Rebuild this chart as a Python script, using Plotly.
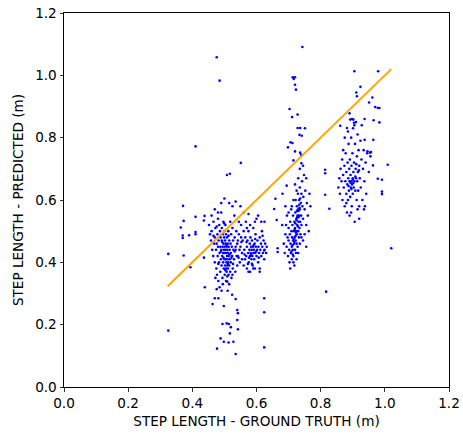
import plotly.graph_objects as go

# Ground truth / predicted pairs (approximate)
gt_outliers = [0.325, 0.325, 0.371, 0.373, 0.364, 0.370, 0.370, 0.373, 0.394, 0.410, 0.410, 0.410, 0.410, 0.390,
               0.436, 0.438, 0.436, 0.439, 0.463, 0.476, 0.485, 0.551, 0.508, 0.517,
               0.477, 0.488, 0.498, 0.513, 0.528, 0.535, 0.494, 0.507, 0.514, 0.520, 0.517, 0.542, 0.540, 0.540,
               0.542, 0.535, 0.524, 0.510, 0.498, 0.491, 0.476, 0.470, 0.481, 0.509, 0.624, 0.624, 0.624, 0.624,
               0.743, 0.713, 0.720, 0.716, 0.720, 0.723, 0.703, 0.711, 0.728, 0.728, 0.734, 0.736, 0.741, 0.751,
               0.698, 0.706, 0.712, 0.720, 0.736, 0.739, 0.740, 0.715,
               0.659, 0.655, 0.663, 0.666, 0.666, 0.681, 0.694, 0.817, 0.814, 0.827, 0.814, 0.814,
               0.905, 0.979, 0.924, 0.911, 0.913, 0.951, 0.961, 0.970, 0.978, 0.983, 0.983, 0.965, 0.937,
               1.009, 1.020, 0.991, 0.991, 0.991, 0.978, 0.963, 0.957, 0.946, 0.954, 0.937, 0.964,
               0.861, 0.882, 0.892, 0.902, 0.904, 0.890]
pr_outliers = [0.427, 0.181, 0.581, 0.533, 0.512, 0.486, 0.478, 0.422, 0.384, 0.772, 0.546, 0.497, 0.490, 0.487,
               0.534, 0.549, 0.415, 0.320, 0.266, 1.058, 0.983, 0.719, 0.680, 0.684,
               0.123, 0.156, 0.145, 0.143, 0.145, 0.106, 0.202, 0.204, 0.202, 0.192, 0.172, 0.185, 0.215, 0.247,
               0.237, 0.282, 0.296, 0.309, 0.260, 0.309, 0.314, 0.285, 0.285, 0.338, 0.285, 0.240, 0.127, 0.438,
               1.091, 0.994, 0.994, 0.988, 0.970, 0.954, 0.892, 0.866, 0.874, 0.831, 0.809, 0.831, 0.806, 0.830,
               0.769, 0.785, 0.783, 0.756, 0.752, 0.745, 0.718, 0.727,
               0.604, 0.571, 0.536, 0.445, 0.433, 0.620, 0.646, 0.306, 0.617, 0.572, 0.686, 0.697,
               1.013, 1.013, 0.963, 0.945, 0.933, 0.913, 0.929, 0.898, 0.895, 0.895, 0.849, 0.856, 0.860,
               0.713, 0.445, 0.627, 0.619, 0.665, 0.668, 0.711, 0.754, 0.756, 0.752, 0.793, 0.793,
               0.838, 0.831, 0.858, 0.858, 0.848, 0.878]

cluster_a = [
    (0.452, 0.52), (0.455, 0.49), (0.458, 0.47), (0.46, 0.50), (0.462, 0.44), (0.465, 0.42), (0.466, 0.53),
    (0.468, 0.46), (0.47, 0.48), (0.47, 0.40), (0.472, 0.51), (0.474, 0.44), (0.475, 0.38), (0.476, 0.46),
    (0.477, 0.36), (0.478, 0.49), (0.479, 0.42), (0.48, 0.54), (0.48, 0.45), (0.481, 0.34), (0.482, 0.47),
    (0.483, 0.40), (0.484, 0.52), (0.485, 0.43), (0.486, 0.50), (0.487, 0.37), (0.487, 0.45), (0.488, 0.48),
    (0.489, 0.41), (0.49, 0.56), (0.49, 0.44), (0.491, 0.39), (0.492, 0.47), (0.492, 0.51), (0.493, 0.42),
    (0.494, 0.35), (0.494, 0.45), (0.495, 0.49), (0.496, 0.40), (0.496, 0.43), (0.497, 0.53), (0.497, 0.46),
    (0.498, 0.38), (0.498, 0.44), (0.499, 0.48), (0.50, 0.41), (0.50, 0.45), (0.50, 0.50), (0.501, 0.36),
    (0.501, 0.43), (0.502, 0.47), (0.502, 0.39), (0.503, 0.44), (0.503, 0.52), (0.504, 0.41), (0.504, 0.46),
    (0.505, 0.38), (0.505, 0.49), (0.506, 0.43), (0.506, 0.40), (0.507, 0.45), (0.507, 0.37), (0.508, 0.42),
    (0.508, 0.48), (0.509, 0.39), (0.509, 0.44), (0.51, 0.41), (0.51, 0.46), (0.511, 0.38), (0.511, 0.43),
    (0.512, 0.50), (0.512, 0.40), (0.513, 0.45), (0.513, 0.36), (0.514, 0.42), (0.515, 0.39), (0.515, 0.47),
    (0.516, 0.44), (0.517, 0.41), (0.518, 0.53), (0.518, 0.37), (0.519, 0.46), (0.52, 0.43), (0.52, 0.40),
    (0.521, 0.49), (0.522, 0.35), (0.523, 0.45), (0.524, 0.42), (0.525, 0.51), (0.526, 0.38), (0.527, 0.47),
    (0.528, 0.44), (0.53, 0.41), (0.531, 0.55), (0.532, 0.48), (0.534, 0.37), (0.535, 0.45), (0.537, 0.50),
    (0.538, 0.42), (0.54, 0.39), (0.542, 0.47), (0.545, 0.53), (0.547, 0.44), (0.55, 0.58), (0.552, 0.48),
    (0.555, 0.41), (0.49, 0.59), (0.50, 0.605), (0.515, 0.59), (0.525, 0.58), (0.535, 0.595), (0.47, 0.57),
    (0.48, 0.56), (0.46, 0.55), (0.495, 0.33), (0.505, 0.34), (0.485, 0.32), (0.515, 0.33), (0.525, 0.36),
    (0.472, 0.35), (0.497, 0.415), (0.506, 0.455), (0.511, 0.395), (0.503, 0.375), (0.493, 0.465),
    (0.516, 0.425), (0.489, 0.435), (0.513, 0.485), (0.522, 0.415), (0.499, 0.525), (0.476, 0.515),
    (0.532, 0.435), (0.481, 0.395), (0.527, 0.395), (0.544, 0.415), (0.466, 0.485), (0.509, 0.355),
]
cluster_b = [
    (0.535, 0.44), (0.54, 0.46), (0.542, 0.42), (0.545, 0.49), (0.548, 0.40), (0.55, 0.45), (0.552, 0.52),
    (0.555, 0.43), (0.557, 0.47), (0.56, 0.39), (0.56, 0.50), (0.562, 0.44), (0.564, 0.41), (0.565, 0.48),
    (0.567, 0.53), (0.568, 0.42), (0.57, 0.45), (0.57, 0.38), (0.572, 0.47), (0.574, 0.43), (0.575, 0.50),
    (0.576, 0.40), (0.578, 0.44), (0.579, 0.46), (0.58, 0.42), (0.58, 0.37), (0.581, 0.48), (0.582, 0.43),
    (0.583, 0.45), (0.584, 0.41), (0.585, 0.44), (0.586, 0.47), (0.587, 0.42), (0.588, 0.39), (0.589, 0.45),
    (0.59, 0.43), (0.59, 0.51), (0.592, 0.44), (0.593, 0.41), (0.594, 0.46), (0.595, 0.38), (0.596, 0.43),
    (0.597, 0.49), (0.598, 0.45), (0.60, 0.42), (0.60, 0.54), (0.602, 0.44), (0.603, 0.47), (0.605, 0.40),
    (0.606, 0.45), (0.608, 0.43), (0.61, 0.48), (0.61, 0.38), (0.612, 0.44), (0.614, 0.46), (0.615, 0.42),
    (0.617, 0.50), (0.618, 0.45), (0.62, 0.43), (0.622, 0.47), (0.624, 0.41), (0.625, 0.44), (0.627, 0.46),
    (0.63, 0.43), (0.632, 0.45), (0.605, 0.55), (0.615, 0.53), (0.595, 0.53), (0.575, 0.555), (0.56, 0.56),
    (0.625, 0.53), (0.58, 0.52), (0.57, 0.51), (0.59, 0.38), (0.575, 0.37), (0.61, 0.37),
    (0.583, 0.425), (0.591, 0.455), (0.577, 0.415), (0.599, 0.435), (0.569, 0.465), (0.607, 0.415),
    (0.586, 0.395), (0.553, 0.465), (0.619, 0.485), (0.563, 0.425), (0.596, 0.475), (0.573, 0.395),
]
cluster_c = [
    (0.685, 0.46), (0.688, 0.43), (0.69, 0.49), (0.692, 0.52), (0.694, 0.45), (0.695, 0.55), (0.697, 0.48),
    (0.698, 0.42), (0.70, 0.47), (0.70, 0.51), (0.702, 0.44), (0.703, 0.40), (0.704, 0.49), (0.705, 0.53),
    (0.706, 0.46), (0.707, 0.43), (0.708, 0.57), (0.709, 0.50), (0.71, 0.45), (0.71, 0.41), (0.711, 0.48),
    (0.712, 0.52), (0.713, 0.44), (0.714, 0.55), (0.714, 0.47), (0.715, 0.42), (0.716, 0.50), (0.717, 0.46),
    (0.718, 0.53), (0.718, 0.39), (0.719, 0.48), (0.72, 0.44), (0.72, 0.51), (0.721, 0.56), (0.722, 0.47),
    (0.722, 0.60), (0.723, 0.43), (0.724, 0.50), (0.724, 0.54), (0.725, 0.46), (0.726, 0.58), (0.726, 0.49),
    (0.727, 0.52), (0.728, 0.55), (0.728, 0.45), (0.729, 0.62), (0.73, 0.50), (0.73, 0.57), (0.731, 0.53),
    (0.732, 0.48), (0.733, 0.60), (0.733, 0.55), (0.734, 0.51), (0.735, 0.64), (0.735, 0.57), (0.736, 0.53),
    (0.737, 0.49), (0.738, 0.59), (0.739, 0.55), (0.74, 0.62), (0.74, 0.52), (0.742, 0.66), (0.743, 0.58),
    (0.745, 0.54), (0.746, 0.61), (0.748, 0.68), (0.75, 0.57), (0.752, 0.63), (0.755, 0.52), (0.757, 0.59),
    (0.76, 0.55), (0.763, 0.50), (0.765, 0.62), (0.768, 0.58), (0.725, 0.41), (0.715, 0.40), (0.705, 0.38),
    (0.73, 0.43), (0.735, 0.46), (0.74, 0.48), (0.745, 0.47), (0.75, 0.49), (0.755, 0.45), (0.72, 0.65),
    (0.73, 0.67), (0.735, 0.70), (0.745, 0.71), (0.725, 0.63), (0.715, 0.60), (0.71, 0.58), (0.70, 0.56),
    (0.69, 0.58), (0.68, 0.52), (0.755, 0.67),
    (0.721, 0.525), (0.727, 0.545), (0.731, 0.565), (0.719, 0.505), (0.733, 0.585), (0.716, 0.475),
    (0.725, 0.535), (0.729, 0.515), (0.712, 0.455), (0.736, 0.605), (0.723, 0.495), (0.709, 0.435),
    (0.726, 0.565), (0.731, 0.545), (0.718, 0.465), (0.722, 0.485), (0.734, 0.575), (0.713, 0.425),
]
cluster_d = [
    (0.855, 0.64), (0.858, 0.67), (0.86, 0.62), (0.862, 0.70), (0.865, 0.66), (0.867, 0.73), (0.868, 0.60),
    (0.87, 0.68), (0.872, 0.64), (0.874, 0.71), (0.875, 0.58), (0.877, 0.66), (0.878, 0.75), (0.88, 0.62),
    (0.88, 0.69), (0.882, 0.56), (0.883, 0.65), (0.884, 0.72), (0.885, 0.60), (0.886, 0.67), (0.887, 0.78),
    (0.888, 0.63), (0.889, 0.70), (0.89, 0.66), (0.89, 0.55), (0.891, 0.73), (0.892, 0.61), (0.893, 0.68),
    (0.894, 0.64), (0.895, 0.80), (0.895, 0.66), (0.896, 0.71), (0.897, 0.58), (0.898, 0.65), (0.899, 0.75),
    (0.90, 0.67), (0.90, 0.62), (0.901, 0.83), (0.902, 0.69), (0.903, 0.64), (0.904, 0.72), (0.905, 0.66),
    (0.906, 0.53), (0.907, 0.78), (0.908, 0.63), (0.909, 0.70), (0.91, 0.67), (0.91, 0.85), (0.912, 0.60),
    (0.913, 0.74), (0.914, 0.66), (0.915, 0.81), (0.916, 0.69), (0.917, 0.63), (0.918, 0.76), (0.92, 0.71),
    (0.92, 0.58), (0.922, 0.67), (0.924, 0.79), (0.925, 0.64), (0.927, 0.73), (0.928, 0.84), (0.93, 0.60),
    (0.932, 0.70), (0.934, 0.76), (0.936, 0.66), (0.938, 0.58), (0.94, 0.72), (0.942, 0.62), (0.945, 0.75),
    (0.95, 0.69), (0.955, 0.74), (0.898, 0.86), (0.905, 0.84), (0.885, 0.82), (0.875, 0.80), (0.87, 0.76),
    (0.92, 0.54), (0.915, 0.57), (0.895, 0.56), (0.935, 0.57), (0.88, 0.59), (0.9, 0.665), (0.902, 0.655),
    (0.893, 0.655), (0.908, 0.675), (0.896, 0.635), (0.911, 0.715), (0.887, 0.645), (0.919, 0.695),
]

fit_x = [0.323, 1.02]
fit_y = [0.323, 1.02]

x_ticks = [0.0, 0.2, 0.4, 0.6, 0.8, 1.0, 1.2]
y_ticks = [0.0, 0.2, 0.4, 0.6, 0.8, 1.0, 1.2]

gt = list(gt_outliers)
pr = list(pr_outliers)
for cl in (cluster_a, cluster_b, cluster_c, cluster_d):
    gt += [p[0] for p in cl]
    pr += [p[1] for p in cl]

FONT = dict(family="DejaVu Sans", size=13.6, color="black")

fig = go.Figure()
fig.add_trace(go.Scatter(
    x=gt, y=pr, mode="markers",
    marker=dict(color="#0000ff", size=2.6, line=dict(width=0)),
    showlegend=False, hoverinfo="skip"))
fig.add_trace(go.Scatter(
    x=fit_x, y=fit_y, mode="lines",
    line=dict(color="#ffa500", width=2),
    showlegend=False, hoverinfo="skip"))

axis_common = dict(
    range=[0, 1.2], showgrid=False, zeroline=False, automargin=False,
    showline=True, linecolor="black", linewidth=1, mirror=True,
    ticks="outside", ticklen=3.5, tickwidth=0.8, tickcolor="black",
    tickformat=".1f", tickfont=FONT,
)
fig.update_xaxes(**axis_common, tickvals=x_ticks,
                 title=dict(text="STEP LENGTH - GROUND TRUTH (m)", font=FONT, standoff=6))
fig.update_yaxes(**axis_common, tickvals=y_ticks,
                 title=dict(text="STEP LENGTH - PREDICTED (m)", font=FONT, standoff=8))
fig.update_layout(
    width=463, height=437,
    margin=dict(l=64, r=14, t=13, b=50),
    paper_bgcolor="white", plot_bgcolor="white",
)
fig.write_html("out.html",
               config={"displayModeBar": False, "staticPlot": True},
               post_script="document.body.style.margin='0';document.body.style.overflow='hidden';")
